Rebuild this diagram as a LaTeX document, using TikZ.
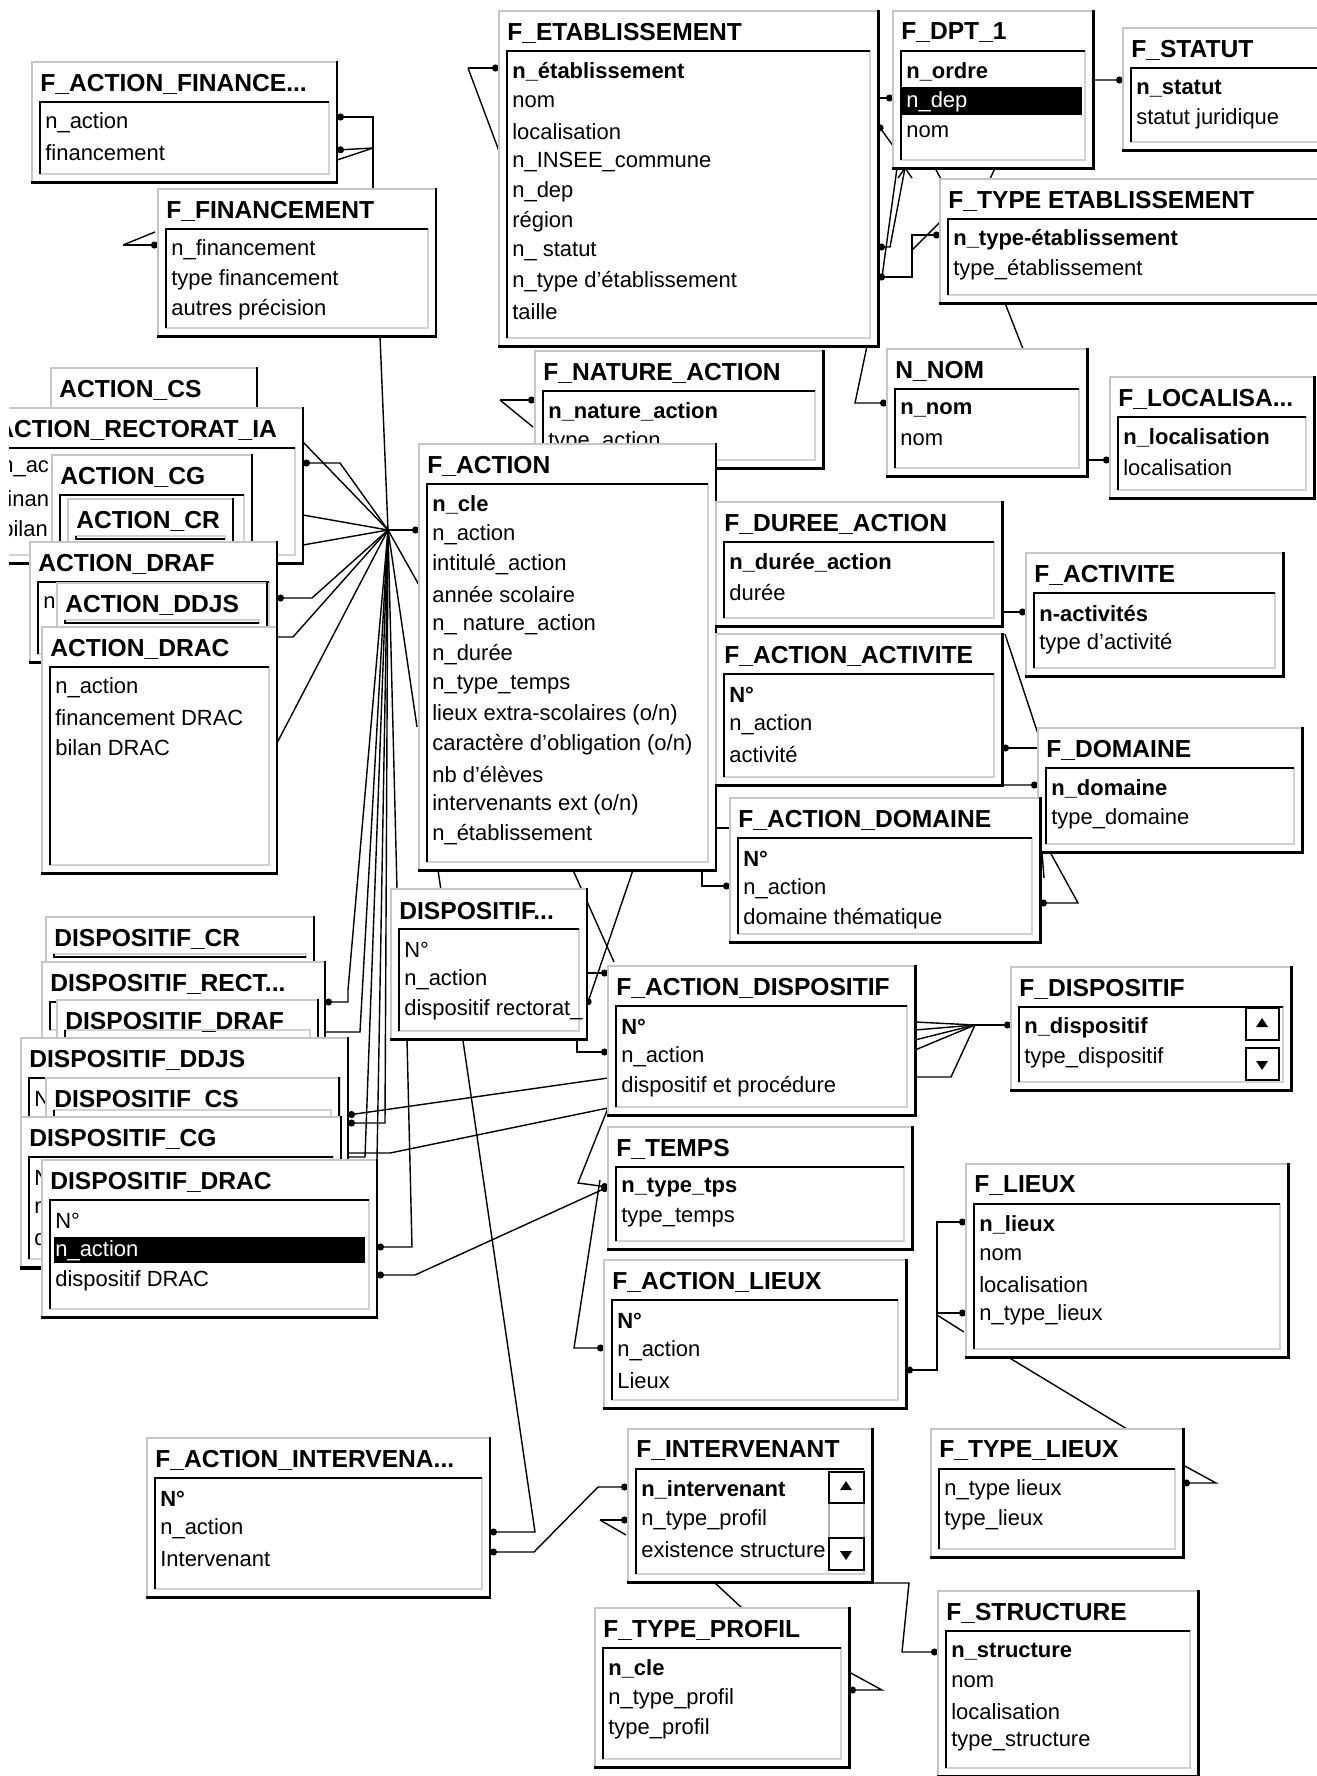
\documentclass[tikz,border=0pt]{standalone}
\usepackage{fontspec}
\setmainfont{Liberation Sans}
\usetikzlibrary{calc, arrows.meta}
\pgfdeclarelayer{background}
\pgfsetlayers{background,main}

\tikzset{
  tblframe/.style={draw=gray!45, line width=1.2pt, fill=white, rectangle,
    anchor=north west, inner sep=0pt, outer sep=0pt},
  tbledge/.style={line width=1.7pt, line cap=rect},
  tbltitle/.style={anchor=west, inner sep=0pt, font=\fontsize{14}{16}\selectfont\bfseries},
  tblinner/.style={draw=gray!35, line width=0.8pt},
  tblrule/.style={line width=1.1pt},
  tblfield/.style={anchor=west, inner sep=0pt, font=\fontsize{12.5}{15}\selectfont},
  link/.style={line width=0.8pt},
  dotend/.style={-{Circle[length=4pt]}},
  dotstart/.style={{Circle[length=4pt]}-},
  dotboth/.style={{Circle[length=4pt]}-{Circle[length=4pt]}},
  scrollbtn/.style={draw, fill=white, line width=0.9pt},
}

% table: #1 name, #2 x, #3 y, #4 width, #5 height, #6 title, #7 fields
\newcommand{\dbtable}[7]{%
  \node[tblframe, minimum width=#4*0.02cm, minimum height=#5*0.02cm] (#1) at (#2,#3) {};
  \draw[tbledge] (#1.north east) -- (#1.south east) -- (#1.south west);
  \node[tbltitle] (#1-t) at ({#2+8},{#3+22}) {#6};
  \draw[tblinner] ({#2+#4-8},{#3+40}) rectangle ({#2+8},{#3+#5-8});
  \draw[tblrule] ({#2+#4-8},{#3+40}) -- ({#2+8},{#3+40}) -- ({#2+8},{#3+#5-8});
  \foreach \fld [count=\k] in {#7} {
    \node[tblfield] (#1-\k) at ({#2+13},{#3+31+30*\k}) {\fld};
  }%
}

\begin{document}
\begin{tikzpicture}[x=0.02cm, y=-0.02cm]
\useasboundingbox (0,0) rectangle (1317,1776);
\begin{pgfonlayer}{background}
  \fill[white] (0,0) rectangle (1317,1776);
\end{pgfonlayer}

% top tables
\dbtable{afin}{32}{62}{305}{120}{F\_ACTION\_FINANCE...}{n\_action, financement}
\dbtable{fin}{158}{189}{278}{147}{F\_FINANCEMENT}{n\_financement, type financement, autres précision}
\dbtable{etab}{499}{11}{379}{335}{F\_ETABLISSEMENT}{\textbf{n\_établissement}, nom, localisation, n\_INSEE\_commune, n\_dep, région, n\_ statut, n\_type d'établissement, taille}
\dbtable{dpt}{893}{11}{200}{157}{F\_DPT\_1}{\textbf{n\_ordre}, n\_dep, nom}
\fill ($(dpt-2.west)+(-4,-15)$) rectangle ($(dpt-2.west)+(176,13)$);
\node[tblfield, text=white] (dpt-sel) at (dpt-2.west) {n\_dep};
\dbtable{statut}{1123}{28}{220}{122}{F\_STATUT}{\textbf{n\_statut}, statut juridique}
\dbtable{typeetab}{940}{179}{400}{124}{F\_TYPE ETABLISSEMENT}{\textbf{n\_type-établissement}, type\_établissement}
\dbtable{nature}{535}{351}{288}{117}{F\_NATURE\_ACTION}{\textbf{n\_nature\_action}, type\_action}
\dbtable{nnom}{887}{349}{200}{127}{N\_NOM}{\textbf{n\_nom}, nom}
\dbtable{loc}{1110}{377}{204}{121}{F\_LOCALISA...}{\textbf{n\_localisation}, localisation}

% left stack of ACTION_* tables
\dbtable{acs}{51}{368}{206}{60}{ACTION\_CS}{{}}
\begin{scope}
  \clip (9,0) rectangle (1317,1776);
  \dbtable{arect}{-12}{408}{315}{155}{ACTION\_RECTORAT\_IA}{n\_ac, finan, bilan}
\end{scope}
\dbtable{acg}{52}{455}{200}{120}{ACTION\_CG}{{}}
\dbtable{acr}{68}{499}{165}{45}{ACTION\_CR}{{}}
\dbtable{adraf}{30}{542}{247}{120}{ACTION\_DRAF}{n}
\dbtable{addjs}{57}{583}{210}{45}{ACTION\_DDJS}{{}}
\dbtable{adrac}{42}{627}{235}{246}{ACTION\_DRAC}{n\_action, financement DRAC, bilan DRAC}

% centre
\dbtable{act}{419}{444}{297}{426}{F\_ACTION}{\textbf{n\_cle}, n\_action, intitulé\_action, année scolaire, n\_ nature\_action, n\_durée, n\_type\_temps, lieux extra-scolaires (o/n), caractère d'obligation (o/n), nb d'élèves, intervenants ext (o/n), n\_établissement}
\dbtable{duree}{716}{502}{286}{124}{F\_DUREE\_ACTION}{\textbf{n\_durée\_action}, durée}
\dbtable{activ}{1026}{553}{257}{123}{F\_ACTIVITE}{\textbf{n-activités}, type d'activité}
\dbtable{aactiv}{716}{634}{286}{151}{F\_ACTION\_ACTIVITE}{\textbf{N°}, n\_action, activité}
\dbtable{dom}{1038}{728}{264}{124}{F\_DOMAINE}{\textbf{n\_domaine}, type\_domaine}
\dbtable{adom}{730}{798}{310}{144}{F\_ACTION\_DOMAINE}{\textbf{N°}, n\_action, domaine thématique}

% left stack of DISPOSITIF_* tables
\dbtable{dcr}{46}{917}{268}{45}{DISPOSITIF\_CR}{{}}
\dbtable{drect}{42}{962}{283}{76}{DISPOSITIF\_RECT...}{{}}
\dbtable{ddraf}{57}{1000}{261}{38}{DISPOSITIF\_DRAF}{{}}
\dbtable{dddjs}{21}{1038}{327}{230}{DISPOSITIF\_DDJS}{N}
\dbtable{dcs}{46}{1078}{293}{40}{DISPOSITIF\_CS}{{}}
\dbtable{dcg}{21}{1117}{320}{150}{DISPOSITIF\_CG}{N, n, d}
\dbtable{ddrac}{42}{1160}{335}{157}{DISPOSITIF\_DRAC}{N°, n\_action, dispositif DRAC}
\fill ($(ddrac-2.west)+(-1,-14)$) rectangle ($(ddrac-2.west)+(310,12)$);
\node[tblfield, text=white] (ddrac-sel) at (ddrac-2.west) {n\_action};
\dbtable{dispo}{391}{889}{196}{150}{DISPOSITIF...}{N°, n\_action, dispositif rectorat\_}

% lower centre and right
\dbtable{adisp}{608}{966}{307}{149}{F\_ACTION\_DISPOSITIF}{\textbf{N°}, n\_action, dispositif et procédure}
\dbtable{disp}{1011}{967}{280}{123}{F\_DISPOSITIF}{\textbf{n\_dispositif}, type\_dispositif}
\draw[scrollbtn] ($(disp.north west)+(235,41)$) rectangle ($(disp.north west)+(268,73)$);
\fill ($(disp.north west)+(251,51)$) -- ++(6,9) -- ++(-12,0) -- cycle;
\draw[scrollbtn] ($(disp.north west)+(235,81)$) rectangle ($(disp.north west)+(268,113)$);
\fill ($(disp.north west)+(251,103)$) -- ++(6,-9) -- ++(-12,0) -- cycle;
\dbtable{temps}{608}{1127}{304}{122}{F\_TEMPS}{\textbf{n\_type\_tps}, type\_temps}
\dbtable{lieux}{966}{1164}{322}{193}{F\_LIEUX}{\textbf{n\_lieux}, nom, localisation, n\_type\_lieux}
\dbtable{alieux}{604}{1260}{302}{148}{F\_ACTION\_LIEUX}{\textbf{N°}, n\_action, Lieux}
\dbtable{ainter}{147}{1438}{343}{159}{F\_ACTION\_INTERVENA...}{\textbf{N°}, n\_action, Intervenant}
\dbtable{inter}{628}{1429}{244}{153}{F\_INTERVENANT}{\textbf{n\_intervenant}, n\_type\_profil, existence structure}
\draw[draw=gray!60, fill=white, line width=0.8pt] ($(inter.north west)+(201,43)$) rectangle ($(inter.north west)+(236,141)$);
\draw[scrollbtn] ($(inter.north west)+(201,43)$) rectangle ($(inter.north west)+(236,74)$);
\fill ($(inter.north west)+(218,52)$) -- ++(6,9) -- ++(-12,0) -- cycle;
\draw[scrollbtn] ($(inter.north west)+(201,109)$) rectangle ($(inter.north west)+(236,141)$);
\fill ($(inter.north west)+(218,131)$) -- ++(6,-9) -- ++(-12,0) -- cycle;
\dbtable{tlieux}{931}{1429}{252}{128}{F\_TYPE\_LIEUX}{n\_type lieux, type\_lieux}
\dbtable{tprof}{595}{1608}{254}{159}{F\_TYPE\_PROFIL}{\textbf{n\_cle}, n\_type\_profil, type\_profil}
\dbtable{struct}{938}{1591}{260}{185}{F\_STRUCTURE}{\textbf{n\_structure}, nom, localisation, type\_structure}

% relationship lines, behind the tables
\begin{pgfonlayer}{background}
\coordinate (hub) at (388,530);
\coordinate (finj) at (373,148);
\coordinate (dispj) at (975,1025);

% financement
\draw[link, dotstart] ($(afin.north east)+(0,55)$) -| (finj) -- (finj |- fin.north);
\draw[link, dotstart] ($(afin.north east)+(0,88)$) -- (finj);
\draw[link] ($(afin.north east)+(0,98)$) -- (finj);
\draw[link, dotend] ($(fin.north west)+(-35,56)$) -- ($(fin.north west)+(0,56)$);
\draw[link] ($(fin.north west)+(-35,56)$) -- ($(fin.north west)+(-3,43)$);
\draw[link] ($(fin.south west)+(222,0)$) -- (hub);

% etablissement
\draw[link, dotend] ($(etab.north west)+(-31,57)$) -- ($(etab.north west)+(0,57)$);
\draw[link] ($(etab.north west)+(-31,57)$) -- ($(etab.north west)+(0,140)$);
\draw[link, dotend] ($(etab.north east)+(0,87)$) -- ($(dpt.north west)+(0,87)$);
\draw[link, dotstart] ($(etab.north east)+(0,114)$) -- ($(dpt.south west)+(6,-14)$);
\draw[link, dotboth] ($(etab.north east)+(0,236)$) -- ++(12,0) -- ($(dpt.south west)+(12,0)$)
  -- ($(dpt.north west)+(107,69)$) -- ($(statut.north west)+(0,52)$);
\draw[link, dotboth] ($(etab.north east)+(0,266)$) -- ++(34,0) -- ++(0,-42) -- ($(typeetab.north west)+(0,56)$);
\draw[link] ($(etab.north east)+(4,266)$) -- ($(dpt.south west)+(4,0)$);
\draw[link] ($(typeetab.north west)+(-28,71)$) -- ($(typeetab.north west)+(0,43)$);
\draw[link] ($(dpt.south west)+(5,10)$) -- ($(dpt.south west)+(12,0)$) -- ($(dpt.south west)+(19,10)$);
\draw[link] ($(dpt.south west)+(42,0)$) -- ($(typeetab.north west)+(1,0)$);
\draw[link] ($(dpt.south west)+(102,0)$) -- ($(typeetab.north west)+(50,0)$);
\draw[link] ($(typeetab.south west)+(65,0)$) -- ($(nnom.north west)+(136,0)$);
\draw[link, dotend] ($(etab.south east)+(-11,0)$) -- ($(nnom.north west)+(-32,54)$) -- ($(nnom.north west)+(0,54)$);
\draw[link, dotend] ($(nnom.north east)+(0,111)$) -- ($(loc.north west)+(0,83)$);
\draw[link, dotend] ($(nature.north west)+(-35,49)$) -- ($(nature.north west)+(0,49)$);
\draw[link] ($(nature.north west)+(-35,49)$) -- ($(nature.north west)+(-2,76)$);

% hub to F_ACTION and ACTION_* tables
\draw[link, dotend] (hub) -- (hub -| act.west);
\draw[link] (hub) -- ($(act.north west)+(0,141)$);
\draw[link] (hub) -- ($(act.north west)+(-2,283)$);
\draw[link] (hub) -- ($(arect.north east)+(0,34)$);
\draw[link, dotend] (hub) -- ($(arect.north east)+(37,55)$) -- ($(arect.north east)+(0,55)$);
\draw[link] (hub) -- ($(arect.north east)+(0,107)$);
\draw[link] (hub) -- ($(arect.north east)+(0,137)$);
\draw[link, dotend] (hub) -- ($(adraf.north east)+(35,56)$) -- ($(adraf.north east)+(0,56)$);
\draw[link] (hub) -- ($(adrac.north east)+(16,10)$) -- ($(adrac.north east)+(0,10)$);
\draw[link] (hub) -- ($(adrac.north east)+(0,116)$);

% hub to DISPOSITIF_* tables
\draw[link] (hub) -- ($(dispo.north west)+(6,0)$);
\draw[link, dotend] (hub) -- ($(drect.north east)+(23,28)$) |- ($(drect.north east)+(0,40)$);
\draw[link, dotend] (hub) -- ($(ddraf.north east)+(42,32)$) -- ($(ddraf.north east)+(0,32)$);
\draw[link, dotend] (hub) -- ($(dddjs.north east)+(37,85)$) -- ($(dddjs.north east)+(0,85)$);
\draw[link, dotend] (hub) -- ($(dcg.north east)+(24,40)$) -- ($(dcg.north east)+(0,40)$);
\draw[link] (hub) -- (ddrac.north east);
\draw[link, dotstart] ($(ddrac.north east)+(0,87)$) -- ++(35,0) -- ($(dispo.south west)+(16,0)$);
\draw[link, dotboth] ($(ddrac.north east)+(0,115)$) -- ++(38,0) -- ($(temps.north west)+(0,60)$);
\draw[link, dotstart] ($(dddjs.north east)+(0,77)$) -- ($(adisp.north west)+(0,112)$);
\draw[link, dotstart] ($(dcg.north east)+(0,36)$) -- ++(49,0) -- ($(adisp.south west)+(0,-7)$);

% action dispositif
\draw[link, dotend] ($(dispo.north east)+(0,84)$) -- ($(adisp.north west)+(0,7)$);
\draw[link, dotstart] ($(dispo.north east)+(0,116)$) -- ($(act.south west)+(214,0)$);
\draw[link, dotend] ($(dispo.south east)+(-10,0)$) -- ++(0,13) -- ($(adisp.north west)+(0,86)$);
\draw[link] ($(act.south west)+(154,0)$) -- ($(adisp.north west)+(6,-4)$);
\foreach \dy in {56,64,74,84} \draw[link] ($(adisp.north east)+(0,\dy)$) -- (dispj);
\draw[link] ($(adisp.north east)+(0,111)$) -- ++(36,0) -- (dispj);
\draw[link, dotend] (dispj) -- ($(disp.north west)+(0,58)$);
\draw[link, dotend] ($(adisp.south west)+(0,-7)$) -- ($(temps.north west)+(-30,56)$) -- ($(temps.north west)+(0,60)$);
\draw[link, dotend] ($(temps.north west)+(-8,53)$) -- ($(alieux.north west)+(-30,88)$) -- ($(alieux.north west)+(0,88)$);

% intervenant
\draw[link, dotstart] ($(ainter.north east)+(0,94)$) -- ++(45,0) -- ($(act.south west)+(19,0)$);
\draw[link, dotboth] ($(ainter.north east)+(0,114)$) -- ++(44,0) -- ($(inter.north west)+(-30,58)$) -- ($(inter.north west)+(0,58)$);
\draw[link, dotend] ($(inter.north west)+(-28,91)$) -- ($(inter.north west)+(0,91)$);
\draw[link] ($(inter.north west)+(-28,91)$) -- ($(inter.north west)+(-2,106)$);
\draw[link, dotend] ($(inter.south east)+(0,1)$) -- ++(37,0) -- ++(-7,69) -- ($(struct.north west)+(0,61)$);
\draw[link] ($(inter.south west)+(86,0)$) -- ($(tprof.north west)+(147,0)$);
\draw[link, dotstart] ($(tprof.north east)+(0,82)$) -- ++(33,0) -- ++(-33,-18);

% lieux
\draw[link, dotboth] ($(alieux.north east)+(0,110)$) -- ++(31,0) -- ($(lieux.north west)+(-29,58)$) -- ($(lieux.north west)+(0,58)$);
\draw[link, dotend] ($(lieux.north west)+(-29,149)$) -- ($(lieux.north west)+(0,149)$);
\draw[link] ($(lieux.north west)+(-29,151)$) -- ($(lieux.north west)+(-2,168)$);
\draw[link] ($(lieux.south west)+(42,0)$) -- ($(tlieux.north west)+(196,0)$);
\draw[link, dotstart] ($(tlieux.north east)+(0,54)$) -- ++(33,0) -- ++(-33,-18);

% action, activite, domaine
\draw[link] ($(act.north east)+(0,384)$) -- ($(adom.north west)+(0,30)$);
\draw[link, dotend] ($(act.south east)+(-14,0)$) -- ++(0,16) -- ($(adom.north west)+(0,88)$);
\draw[link, dotend] ($(duree.north east)+(0,110)$) -- ($(activ.north west)+(0,59)$);
\draw[link] ($(aactiv.north east)+(3,0)$) -- ($(dom.north west)+(2,12)$);
\draw[link, dotstart] ($(aactiv.north east)+(0,114)$) -- ($(dom.north west)+(0,20)$);
\draw[link, dotend] (aactiv.south east) -- ($(dom.north west)+(0,57)$);
\draw[link, dotstart] ($(adom.north east)+(0,105)$) -- ++(38,0) -- ($(dom.south west)+(12,0)$);
\draw[link] ($(dom.south west)+(4,0)$) -- ($(adom.north east)+(4,80)$);
\end{pgfonlayer}
\end{tikzpicture}
\end{document}
